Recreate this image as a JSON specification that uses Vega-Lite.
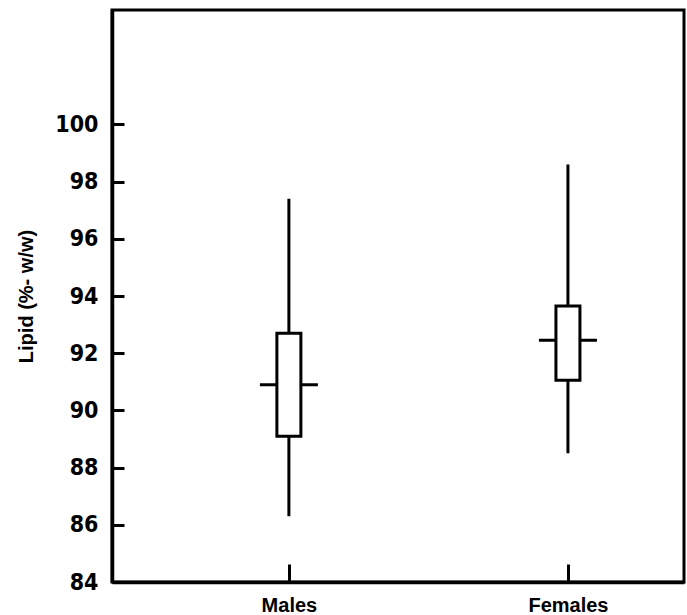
{
  "$schema": "https://vega.github.io/schema/vega-lite/v6.json",
  "autosize": "none",
  "padding": {"left": 112, "top": 10, "right": 3, "bottom": 33},
  "width": 572,
  "height": 572,
  "background": "white",
  "config": {
    "view": {"stroke": "black", "strokeWidth": 3},
    "axis": {"domainColor": "black", "domainWidth": 3.5, "tickColor": "black", "tickWidth": 3, "grid": false, "labelColor": "black", "titleColor": "black"}
  },
  "data": {
    "values": [
      {"sex": "Males", "pos": 1, "low": 86.3, "q1": 89.1, "median": 90.9, "q3": 92.7, "high": 97.4},
      {"sex": "Females", "pos": 2, "low": 88.5, "q1": 91.05, "median": 92.45, "q3": 93.65, "high": 98.6}
    ]
  },
  "encoding": {
    "x": {
      "field": "pos", "type": "quantitative",
      "scale": {"domain": [0.384, 2.398], "nice": false, "zero": false},
      "axis": {
        "title": null, "values": [1, 2],
        "labelExpr": "datum.value == 1 ? 'Males' : 'Females'",
        "tickSize": -18, "labelPadding": 31,
        "labelFont": "Liberation Sans", "labelFontWeight": "bold", "labelFontSize": 20
      }
    }
  },
  "layer": [
    {
      "mark": {"type": "rule", "strokeWidth": 3, "color": "black"},
      "encoding": {
        "y": {"field": "low", "type": "quantitative",
          "scale": {"domain": [84, 104], "nice": false, "zero": false},
          "axis": {
            "title": "Lipid  (%- w/w)", "values": [84, 86, 88, 90, 92, 94, 96, 98, 100],
            "tickSize": -12, "labelPadding": 26,
            "labelFont": "DejaVu Sans Condensed", "labelFontWeight": "bold", "labelFontSize": 23,
            "titleFont": "Liberation Sans", "titleFontWeight": "bold", "titleFontSize": 20,
            "titlePadding": 18
          }
        },
        "y2": {"field": "high"}
      }
    },
    {
      "mark": {"type": "tick", "orient": "horizontal", "thickness": 3, "size": 58, "color": "black", "opacity": 1},
      "encoding": {"y": {"field": "median", "type": "quantitative"}}
    },
    {
      "mark": {"type": "bar", "width": 24, "fill": "white", "stroke": "black", "strokeWidth": 3, "opacity": 1},
      "encoding": {
        "y": {"field": "q1", "type": "quantitative"},
        "y2": {"field": "q3"}
      }
    }
  ]
}
